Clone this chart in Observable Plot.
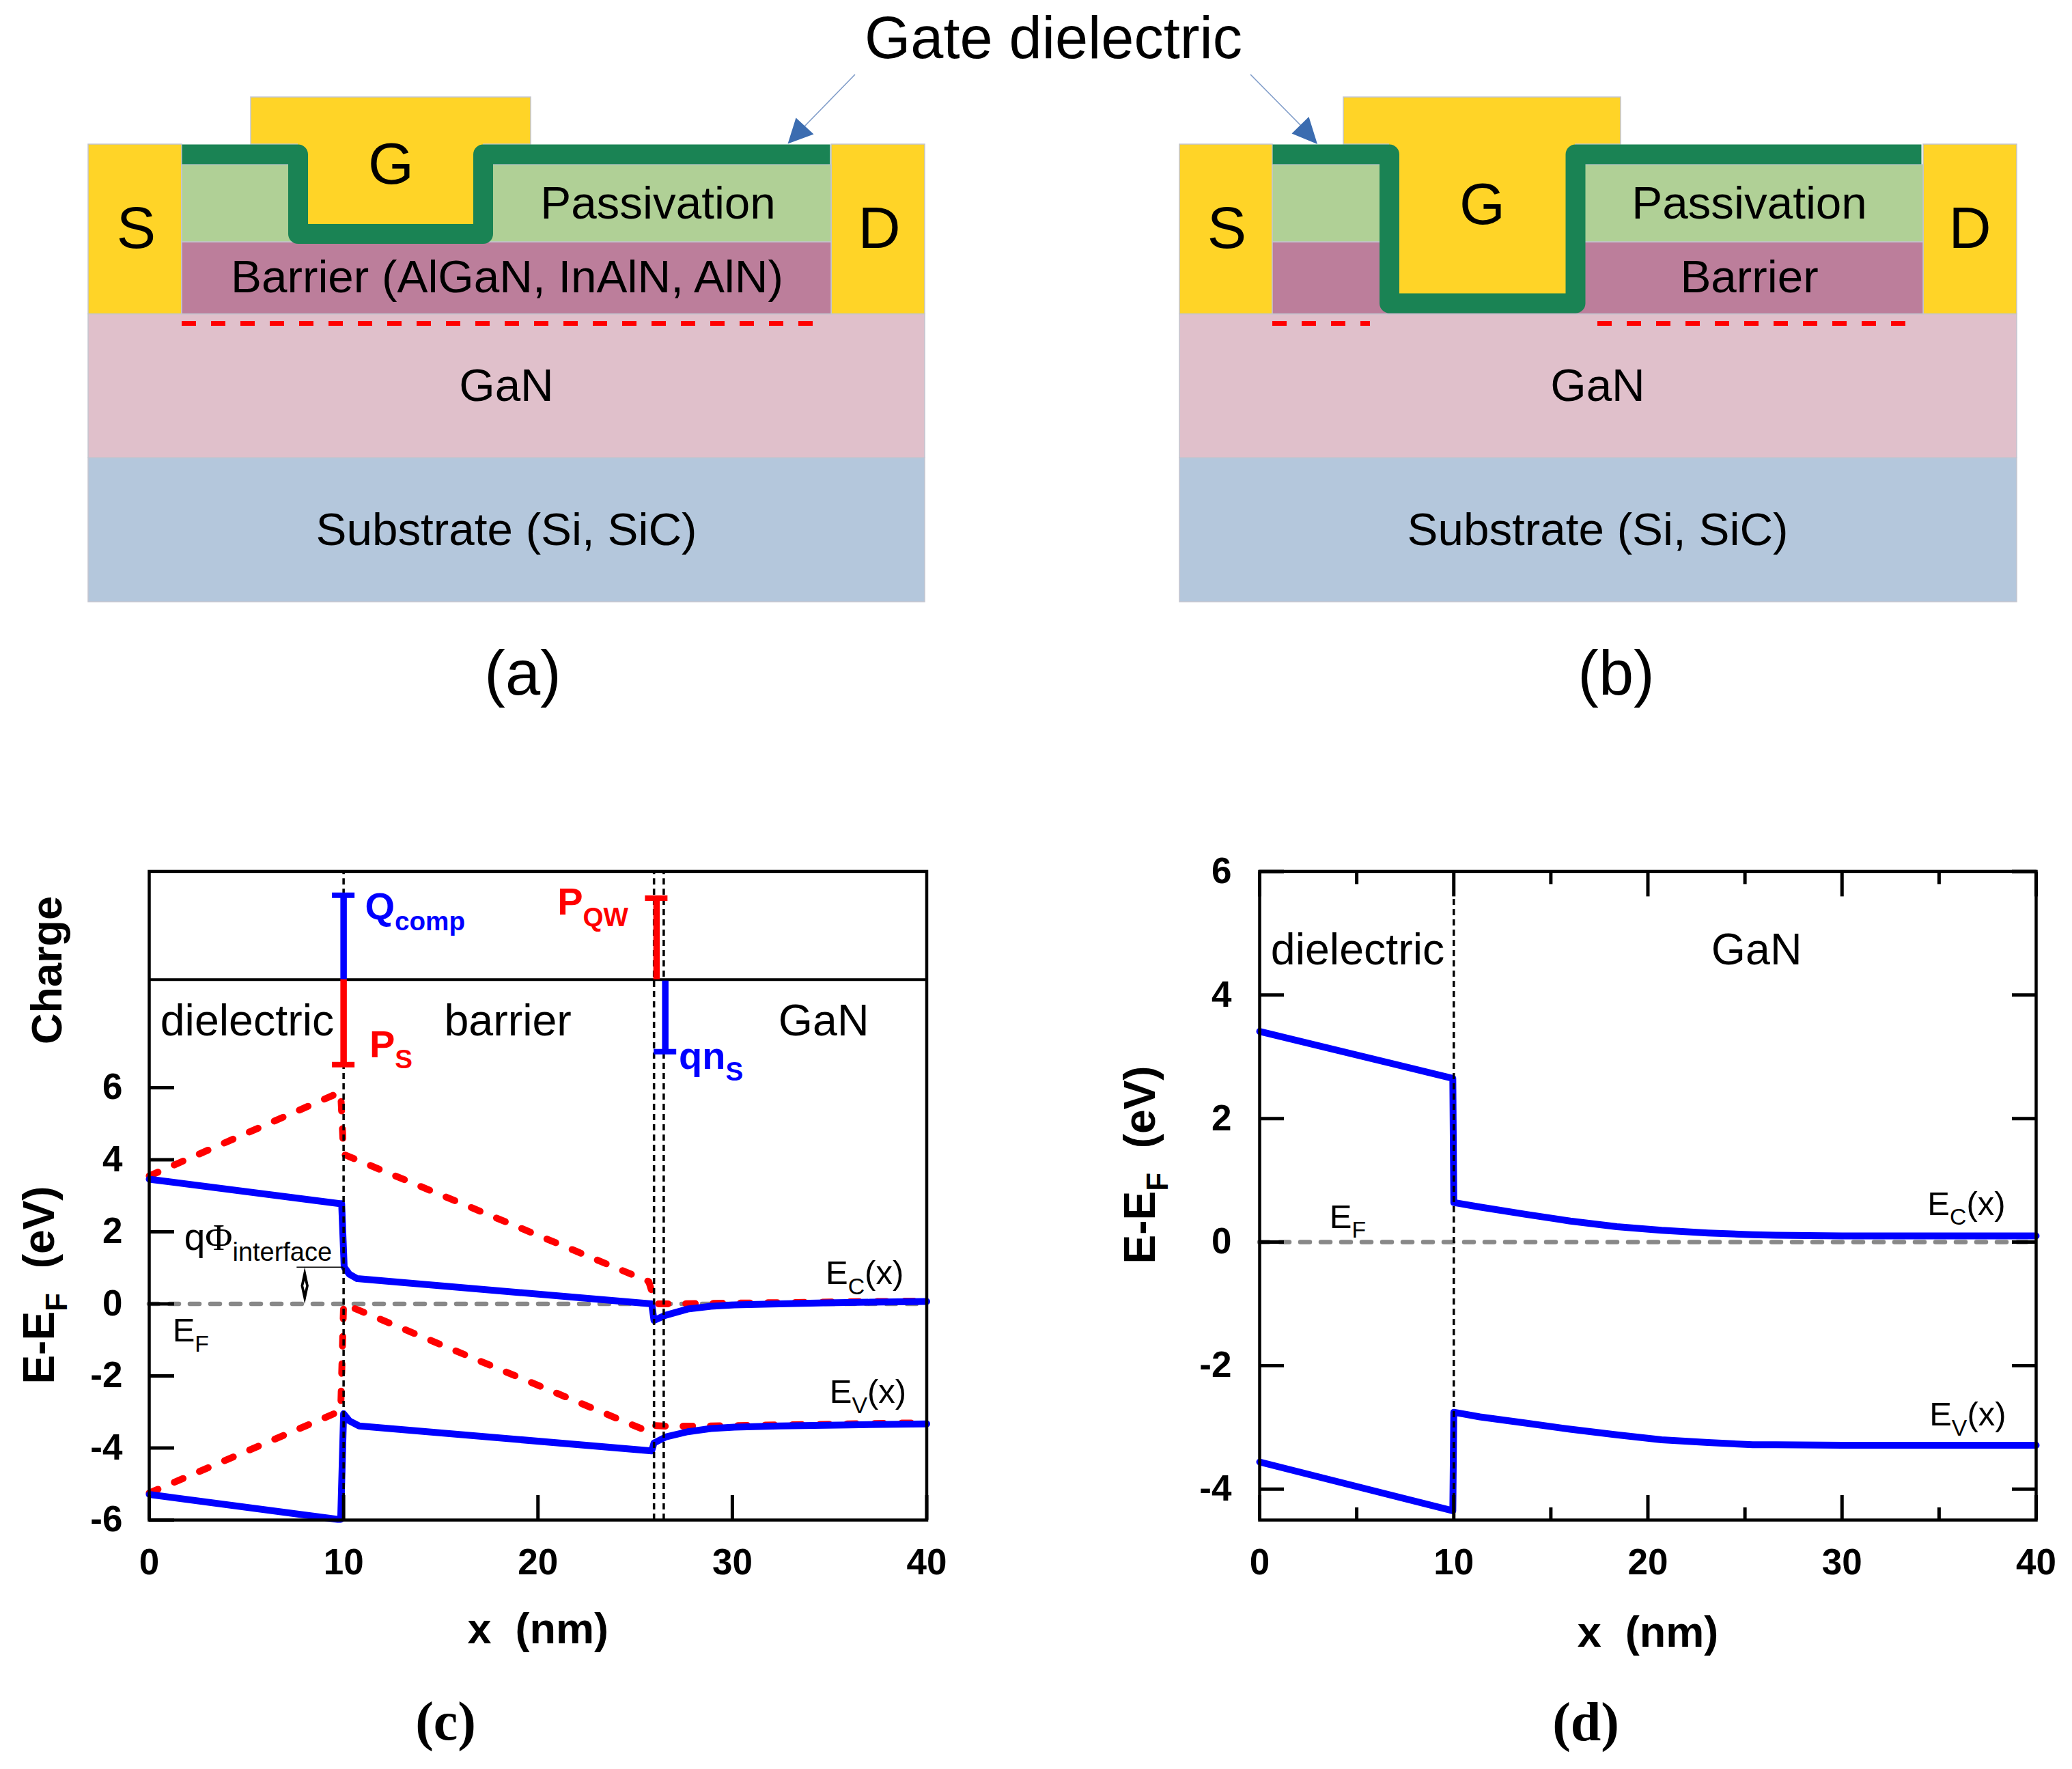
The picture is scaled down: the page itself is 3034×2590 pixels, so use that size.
<!DOCTYPE html>
<html>
<head>
<meta charset="utf-8">
<script src="https://cdn.jsdelivr.net/npm/d3@7"></script>
<script src="https://cdn.jsdelivr.net/npm/@observablehq/plot@0.6"></script>
<style>
html,body{margin:0;padding:0;background:#fff}
#page{position:relative;width:3034px;height:2590px;background:#fff;overflow:hidden}
svg{overflow:visible}
</style>
</head>
<body>
<div id="page"></div>
<script>
// ---------- schematic devices (a) and (b), in schematic units ----------
const layerNames  = ["substrate","GaN","contact","barrier","passivation","gate"];
const layerFills  = ["#b4c7dc","#e0c0cb","#ffd427","#bc7e9b","#b0d096","#ffd427"];
// layer, x1, x2, y1, y2
const layers = [
  ["substrate",129,1354,670,881],["GaN",129,1354,459.5,670],
  ["contact",129,266,211,459.5],["contact",1217,1354,211,459.5],
  ["barrier",266,1217,354,459.5],["passivation",266,1217,241,354],
  ["gate",367,777,142,211],
  ["substrate",1727,2953,670,881],["GaN",1727,2953,459.5,670],
  ["contact",1727,1863,211,459.5],["contact",2816,2953,211,459.5],
  ["barrier",1863,2816,354,459.5],["passivation",1863,2816,241,354],
  ["gate",1967,2373,142,211]
];
const gateStems = [["gate",436,707,200,342],["gate",2034,2306,200,443.5]];
const dielectricA = [[266,225.4],[436,225.4],[436,342],[707,342],[707,225.4],[1215,225.4]];
const dielectricB = [[1863,225.4],[2034,225.4],[2034,443.5],[2306.5,443.5],[2306.5,225.4],[2813,225.4]];
const channel2DEG = [[266,1196],[1863,2006],[2339,2796]];
const shaftA = [[1251,109],[1178,184]];
const shaftB = [[1831,109],[1904,183]];
const headA = [[1153,210],[1191,196],[1165,172]];
const headB = [[1928.5,210.5],[1891,195],[1916,170.5]];
const deviceContacts = [["S",199,362],["G",572,268],["D",1287,362],["S",1796,362],["G",2170,327],["D",2884,362]];
const deviceLabels = [
  ["Passivation",963,319],["Barrier (AlGaN, InAlN, AlN)",742,427],["GaN",741,586],["Substrate (Si, SiC)",741,797],
  ["Passivation",2561,319],["Barrier",2561,427],["GaN",2339,586],["Substrate (Si, SiC)",2339,797]
];
const panelTop = [["(a)",765,1016],["(b)",2366,1016]];

// ---------- band diagram (c) ----------
const cEcX = [0,9.8,9.9,10.03,10.3,10.7,25.85,25.97,26.54,27.7,28.9,30.1,32.4,34.8,37.1,40];
const cEcY = [3.46,2.78,2.78,1.02,0.82,0.70,0.0,-0.46,-0.32,-0.144,-0.068,-0.03,0.0,0.03,0.045,0.065];
const cEvX = [0,9.7,9.85,10,10.3,10.8,25.85,25.97,26.6,27.7,28.9,30.1,32.4,36,40];
const cEvY = [-5.29,-5.98,-5.98,-3.05,-3.25,-3.39,-4.08,-3.86,-3.69,-3.55,-3.46,-3.42,-3.39,-3.36,-3.33];
const cEcIdealX = [0,9.85,10,25.7,26.05,26.6,30,40];
const cEcIdealY = [3.55,5.88,4.15,0.62,0.0,0.0,0.02,0.08];
const cEvIdealX = [0,9.85,10,25.7,26.05,26.7,30,40];
const cEvIdealY = [-5.25,-2.97,0.0,-3.55,-3.38,-3.4,-3.38,-3.3];
const cInterfaces = [10,25.97,26.47];
const cBlueBars = [[10,9,11.34,11.34],[26.55,7,8.96,7]];
const cRedBars  = [[10,6.64,9,6.64],[26.1,9,11.26,11.26]];
const cTicksY = [-6,-4,-2,0,2,4,6];
const xTicks = [0,10,20,30,40];

// ---------- band diagram (d) ----------
const dEcX = [0,9.95,10,11.35,13.7,16,18.4,20.7,23.1,25.4,26.6,30,40];
const dEcY = [3.41,2.65,0.64,0.567,0.45,0.34,0.25,0.19,0.147,0.12,0.11,0.10,0.10];
const dEvX = [0,9.95,10,11.35,13.7,16,18.4,20.7,23.1,25.4,26.6,30,40];
const dEvY = [-3.56,-4.35,-2.755,-2.83,-2.93,-3.03,-3.12,-3.20,-3.245,-3.28,-3.28,-3.29,-3.29];
const dTicksY = [-4,-2,0,2,4,6];
const dMinorX = [5,15,25,35];

const BLUE = "#0000ff", RED = "#ff0000", GRAY = "#888888";
const SANS = "Liberation Sans";
const pts = (xs, ys) => xs.map((x, i) => ({x, y: ys[i]}));
const pairs = a => a.map(([x, y]) => ({x, y}));
const rects = a => a.map(([layer, x1, x2, y1, y2]) => ({layer, x1, x2, y1, y2}));
const textRows = a => a.map(([t, x, y]) => ({t, x, y}));
const txt = (rows, o) => Plot.text(textRows(rows), {x:"x", y:"y", text:"t", lineAnchor:"bottom", fill:"black", fontFamily:SANS, ...o});
const poly = (a, fill) => Plot.line(pairs(a), {x:"x", y:"y", fill, stroke:"none"});

const page = document.getElementById("page");
function place(plot, left, top) {
  plot.style.position = "absolute";
  plot.style.left = left + "px";
  plot.style.top = top + "px";
  plot.style.maxWidth = "none";
  plot.style.background = "transparent";
  page.appendChild(plot);
  // subscripts ("~...~") and the serif Phi are real tspans
  plot.querySelectorAll("text").forEach(n => {
    const s = n.textContent;
    if (!/[~Φ]/.test(s)) return;
    const fs = parseFloat(getComputedStyle(n).fontSize);
    n.textContent = "";
    let shift = 0;
    s.split("~").forEach((part, i) => {
      part.split(/(Φ)/).filter(Boolean).forEach(p => {
        const ts = document.createElementNS("http://www.w3.org/2000/svg", "tspan");
        const target = i % 2 ? 0.3 * fs : 0;
        ts.setAttribute("dy", target - shift);
        shift = target;
        if (i % 2) ts.setAttribute("font-size", 0.69 * fs);
        if (p === "Φ") ts.setAttribute("font-family", "Liberation Serif");
        ts.textContent = p;
        n.appendChild(ts);
      });
    });
  });
}

// ---------- top: schematics ----------
place(Plot.plot({
  width:3034, height:1100, margin:0,
  x:{domain:[0,3034], axis:null}, y:{domain:[1100,0], axis:null},
  color:{domain:layerNames, range:layerFills},
  marks:[
    Plot.rect(rects(layers), {x1:"x1", x2:"x2", y1:"y1", y2:"y2", fill:"layer", stroke:"#c3c5cf", strokeWidth:1.5}),
    Plot.rect(rects(gateStems), {x1:"x1", x2:"x2", y1:"y1", y2:"y2", fill:"layer"}),
    ...[dielectricA, dielectricB].map(d => Plot.line(pairs(d), {x:"x", y:"y", stroke:"#1a8354", strokeWidth:29, strokeLinejoin:"round", strokeLinecap:"butt"})),
    Plot.ruleY(channel2DEG.map(([x1, x2]) => ({x1, x2, y:473})), {x1:"x1", x2:"x2", y:"y", stroke:RED, strokeWidth:7, strokeDasharray:"21 22"}),
    ...[shaftA, shaftB].map(d => Plot.line(pairs(d), {x:"x", y:"y", stroke:"#7f9cc9", strokeWidth:1.6})),
    poly(headA, "#3b6cb0"), poly(headB, "#3b6cb0"),
    txt(deviceContacts, {fontSize:86, textAnchor:"middle"}),
    txt(deviceLabels, {fontSize:67.4, textAnchor:"middle"}),
    txt(panelTop, {fontSize:92, textAnchor:"middle"}),
    txt([["Gate dielectric",1542,84]], {fontSize:86.5, textAnchor:"middle"})
  ]
}), 0, 0);

const tickLabel = {fontSize:53, fontWeight:"bold", fontFamily:SANS};
const fmt = d => String(d);
const regular = {fontSize:64.5, textAnchor:"middle"};
const small = {fontSize:49, textAnchor:"start"};
const bold = {fontWeight:"bold", textAnchor:"middle"};
const curve = (xs, ys, stroke, o = {}) => Plot.line(pts(xs, ys), {x:"x", y:"y", stroke, strokeWidth:10, strokeLinejoin:"round", ...o});
const redDash = {strokeLinecap:"round", strokeDasharray:"14 26"};
const efLine = () => Plot.ruleY([0], {stroke:GRAY, strokeWidth:6.5, strokeDasharray:"14 16", strokeLinecap:"round"});
const dotted = {stroke:"black", strokeWidth:3.5, strokeDasharray:"9 6"};

// ---------- (c) ----------
const barMarks = (rows, stroke) => [
  Plot.ruleX(rows, {x:d => d[0], y1:d => d[1], y2:d => d[2], stroke, strokeWidth:9.5}),
  Plot.ruleY(rows, {y:d => d[3], x1:d => d[0] - 0.58, x2:d => d[0] + 0.58, stroke, strokeWidth:8})
];
place(Plot.plot({
  width:1450, height:1390, marginLeft:218, marginRight:93.5, marginTop:75.4, marginBottom:365,
  x:{domain:[0,40]}, y:{domain:[-6,12]},
  marks:[
    efLine(),
    curve(cEcIdealX, cEcIdealY, RED, redDash),
    curve(cEvIdealX, cEvIdealY, RED, redDash),
    curve(cEcX, cEcY, BLUE),
    curve(cEvX, cEvY, BLUE),
    Plot.ruleX(cInterfaces, {y1:-6, y2:12, ...dotted}),
    Plot.ruleY([9], {stroke:"black", strokeWidth:4}),
    ...barMarks(cBlueBars, BLUE),
    ...barMarks(cRedBars, RED),
    Plot.ruleY([1.02], {x1:7.6, x2:10, stroke:"black", strokeWidth:1.5}),
    poly([[8,1.02],[8.2,0.5],[8,0],[7.8,0.5]], "black"),
    poly([[8,0.65],[8.07,0.5],[8,0.35],[7.93,0.5]], "white"),
    Plot.frame({stroke:"black", strokeWidth:4.5}),
    Plot.axisX({anchor:"bottom", ticks:xTicks, tickSize:-36, tickPadding:78, tickFormat:fmt, label:null, strokeWidth:5, ...tickLabel}),
    Plot.axisY({anchor:"left", ticks:cTicksY, tickSize:-37, tickPadding:76, tickFormat:fmt, label:null, strokeWidth:5, ...tickLabel}),
    txt([["dielectric",5.04,7.45],["barrier",18.45,7.45],["GaN",34.7,7.45]], regular),
    txt([["E~C~(x)",34.8,0.55],["E~V~(x)",35.0,-2.75],["E~F~",1.2,-1.05]], small),
    txt([["qΦ~interface~",1.8,1.5]], {fontSize:55, textAnchor:"start"}),
    txt([["Q~comp~",11.1,10.68],["qn~S~",27.25,6.52]], {fontSize:56, fontWeight:"bold", fill:BLUE, textAnchor:"start"}),
    txt([["P~S~",11.33,6.85],["P~QW~",21.0,10.8]], {fontSize:56, fontWeight:"bold", fill:RED, textAnchor:"start"}),
    txt([["Charge",-4.5,9.26]], {...bold, fontSize:63, rotate:-90}),
    txt([["E-E~F~\u00a0\u00a0(eV)",-4.9,0.52]], {...bold, fontSize:64, rotate:-90}),
    txt([["x\u00a0\u00a0(nm)",20,-9.43]], {...bold, fontSize:63}),
    txt([["(c)",15.25,-12.1]], {fontSize:80, fontWeight:"bold", fontFamily:"Liberation Serif", textAnchor:"middle"})
  ]
}), 0, 1200);

// ---------- (d) ----------
place(Plot.plot({
  width:1484, height:1390, marginLeft:294, marginRight:53, marginTop:75.4, marginBottom:365,
  x:{domain:[0,40]}, y:{domain:[-4.5,6]},
  marks:[
    efLine(),
    curve(dEcX, dEcY, BLUE),
    curve(dEvX, dEvY, BLUE),
    Plot.ruleX([10], {y1:-4.5, y2:6, ...dotted}),
    Plot.frame({stroke:"black", strokeWidth:4.5}),
    Plot.axisX({anchor:"bottom", ticks:xTicks, tickSize:-36, tickPadding:78, tickFormat:fmt, label:null, strokeWidth:5, ...tickLabel}),
    Plot.axisX({anchor:"top", ticks:xTicks, tickSize:-36, fill:"none", label:null, strokeWidth:5}),
    Plot.axisX({anchor:"bottom", ticks:dMinorX, tickSize:-18, fill:"none", label:null, strokeWidth:5}),
    Plot.axisX({anchor:"top", ticks:dMinorX, tickSize:-18, fill:"none", label:null, strokeWidth:5}),
    Plot.axisY({anchor:"left", ticks:dTicksY, tickSize:-36, tickPadding:77, tickFormat:fmt, label:null, strokeWidth:5, ...tickLabel}),
    Plot.axisY({anchor:"right", ticks:dTicksY, tickSize:-36, fill:"none", label:null, strokeWidth:5}),
    txt([["dielectric",5.05,4.5],["GaN",25.6,4.5]], regular),
    txt([["E~C~(x)",34.4,0.44],["E~V~(x)",34.5,-2.97],["E~F~",3.6,0.23]], small),
    txt([["E-E~F~\u00a0\u00a0(eV)",-5.4,1.25]], {...bold, fontSize:64, rotate:-90}),
    txt([["x\u00a0\u00a0(nm)",20,-6.55]], {...bold, fontSize:63}),
    txt([["(d)",16.8,-8.07]], {fontSize:80, fontWeight:"bold", fontFamily:"Liberation Serif", textAnchor:"middle"})
  ]
}), 1550, 1200);
</script>
</body>
</html>
